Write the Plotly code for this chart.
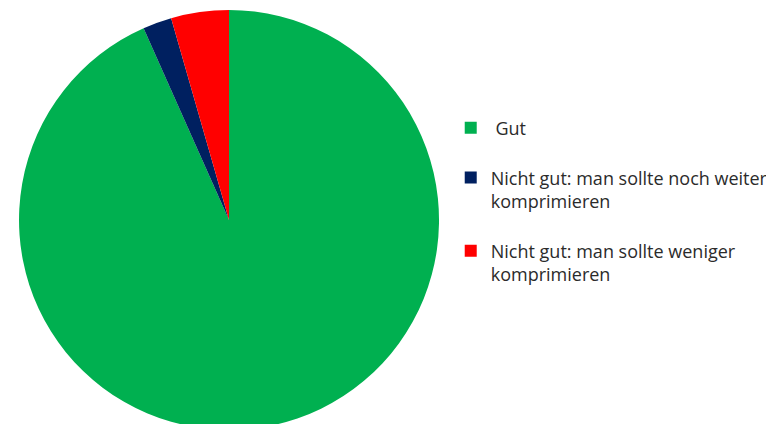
import plotly.graph_objects as go

labels = ["\u00a0Gut<br> ",
          "Nicht gut: man sollte noch weiter<br>komprimieren<br> ",
          "Nicht gut: man sollte weniger<br>komprimieren"]
values = [42, 1, 2]
colors = ["#00B050", "#002060", "#FF0000"]

fig = go.Figure(go.Pie(
    labels=labels,
    values=values,
    marker=dict(colors=colors, line=dict(width=0)),
    sort=False,
    direction="clockwise",
    rotation=0,
    textinfo="none",
    hoverinfo="label+percent",
    domain=dict(x=[0.0142, 0.5569], y=[0, 1]),
))

fig.update_layout(
    width=774, height=424,
    margin=dict(l=0, r=0, t=2, b=2),
    paper_bgcolor="white",
    font=dict(family="Open Sans, Noto Sans, sans-serif", size=18, color="#2b2b2b"),
    legend=dict(
        x=0.572, y=0.763, xanchor="left", yanchor="top",
        valign="top",
        font=dict(size=18, color="#2b2b2b"),
        bgcolor="rgba(0,0,0,0)",
    ),
    showlegend=True,
)

fig.write_html("out.html")
